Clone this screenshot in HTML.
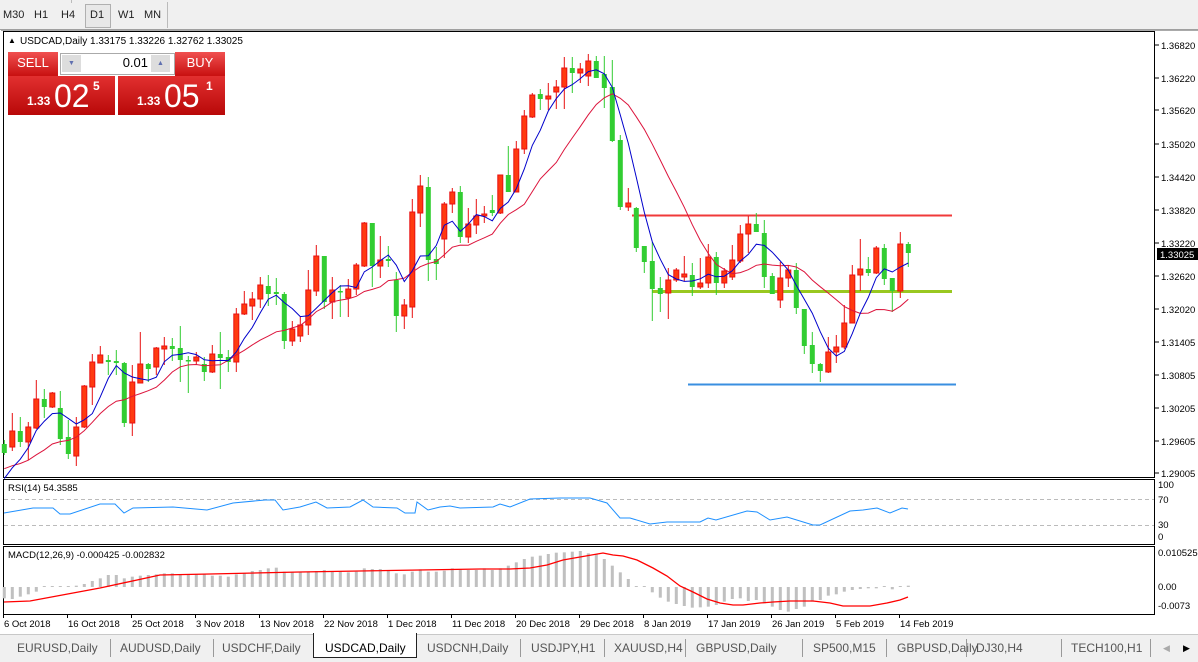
<!DOCTYPE html>
<html><head><meta charset="utf-8">
<style>
html,body{margin:0;padding:0;width:1198px;height:661px;overflow:hidden;background:#fff;font-family:"Liberation Sans",sans-serif;}
#tb{position:absolute;left:0;top:0;width:1198px;height:29px;background:#f0f0f0;border-bottom:1px solid #a0a0a0;}
.tf{position:absolute;top:9px;font-size:11px;color:#222;}
#d1{position:absolute;left:85px;top:4px;width:24px;height:22px;border:1px solid #b0b0b0;background:#e8e8e8;}
#tabs{position:absolute;left:0;top:634px;width:1198px;height:27px;background:#f0f0f0;border-top:1px solid #c8c8c8;}
.tab{position:absolute;top:6px;font-size:12px;color:#555;}
.sep{position:absolute;top:4px;width:1px;height:18px;background:#999;}
#act{position:absolute;left:313px;top:-2px;width:102px;height:24px;background:#fff;border:1px solid #222;border-top:none;}
.btn{position:absolute;background:linear-gradient(#f05050,#c81010);color:#fff;font-size:13px;text-align:center;}
</style></head><body>
<div id="tb">
<span class="tf" style="left:3px">M30</span><span class="tf" style="left:34px">H1</span><span class="tf" style="left:61px">H4</span>
<div id="d1"></div><span class="tf" style="left:90px">D1</span><span class="tf" style="left:118px">W1</span><span class="tf" style="left:144px">MN</span>
<div style="position:absolute;left:167px;top:2px;width:1px;height:26px;background:#bbb"></div>
<div style="position:absolute;left:71px;top:0;width:1px;height:3px;background:#bbb"></div>
</div>
<svg id="s" width="1198" height="661" style="position:absolute;left:0;top:0" xmlns="http://www.w3.org/2000/svg"></svg>
<div class="btn" style="left:8px;top:52px;width:50px;height:24px;line-height:22px;">SELL</div>
<div class="btn" style="left:175px;top:52px;width:50px;height:24px;line-height:22px;">BUY</div>
<div style="position:absolute;left:60px;top:53px;width:113px;height:20px;background:#fff;border:1px solid #aaa;"></div>
<div style="position:absolute;left:62px;top:55px;width:19px;height:17px;background:#ddd;color:#6070b0;font-size:7px;text-align:center;line-height:17px">▼</div>
<div style="position:absolute;left:151px;top:55px;width:19px;height:17px;background:#ddd;color:#6070b0;font-size:7px;text-align:center;line-height:17px">▲</div>
<div style="position:absolute;left:100px;top:55px;width:48px;text-align:right;font-size:13px;color:#000;">0.01</div>
<div class="btn" style="left:8px;top:76px;width:107px;height:39px;background:linear-gradient(#e23030,#b80808)"><span style="position:absolute;left:19px;top:18px;font-size:12px;font-weight:bold">1.33</span><span style="position:absolute;left:46px;top:2px;font-size:32px">02</span><span style="position:absolute;left:85px;top:3px;font-size:12px;font-weight:bold">5</span></div>
<div class="btn" style="left:118px;top:76px;width:107px;height:39px;background:linear-gradient(#e23030,#b80808)"><span style="position:absolute;left:19px;top:18px;font-size:12px;font-weight:bold">1.33</span><span style="position:absolute;left:46px;top:2px;font-size:32px">05</span><span style="position:absolute;left:88px;top:3px;font-size:12px;font-weight:bold">1</span></div>
<div id="tabs">
<div id="act"></div>
<span class="tab" style="left:17px">EURUSD,Daily</span><div class="sep" style="left:110px"></div>
<span class="tab" style="left:120px">AUDUSD,Daily</span><div class="sep" style="left:213px"></div>
<span class="tab" style="left:222px">USDCHF,Daily</span>
<span class="tab" style="left:325px;color:#000">USDCAD,Daily</span>
<span class="tab" style="left:427px">USDCNH,Daily</span><div class="sep" style="left:520px"></div>
<span class="tab" style="left:531px">USDJPY,H1</span><div class="sep" style="left:604px"></div>
<span class="tab" style="left:614px">XAUUSD,H4</span><div class="sep" style="left:685px"></div>
<span class="tab" style="left:696px">GBPUSD,Daily</span><div class="sep" style="left:802px"></div>
<span class="tab" style="left:813px">SP500,M15</span><div class="sep" style="left:886px"></div>
<span class="tab" style="left:897px">GBPUSD,Daily</span><div class="sep" style="left:966px"></div>
<span class="tab" style="left:976px">DJ30,H4</span><div class="sep" style="left:1061px"></div>
<span class="tab" style="left:1071px">TECH100,H1</span><div class="sep" style="left:1150px"></div>
<span class="tab" style="left:1163px;font-size:9px;top:8px;color:#aaa">◀</span><span class="tab" style="left:1183px;font-size:9px;top:8px;color:#000">▶</span>
</div>
<script>
var C=[
['g',444,453,440,455],['r',431,447,413,451],['g',431,442,417,447],['r',427,442,422,460],['r',399,428,380,429],
['g',399,407,389,418],['r',393,407,392,408],['g',408,439,391,445],['g',437,454,420,459],['r',427,456,417,466],
['r',386,427,385,428],['r',362,387,354,405],['r',355,363,346,363],['g',360,362,355,375],['g',361,363,350,375],
['g',363,423,362,427],['r',382,423,365,436],['r',364,383,332,383],['g',364,369,363,382],['r',348,367,347,375],
['r',346,349,337,365],['g',346,349,338,361],['g',348,360,326,382],['g',360,361,356,393],['r',357,361,352,365],
['g',364,372,357,381],['r',354,372,345,373],['g',354,358,332,389],['g',357,362,350,372],['r',314,362,308,372],
['r',304,314,291,315],['r',299,306,292,320],['r',285,299,277,308],['g',286,294,275,306],['g',292,294,278,305],
['g',294,341,292,349],['r',329,341,321,346],['r',325,336,317,342],['r',290,325,270,335],['r',256,291,245,296],
['g',256,302,256,309],['r',290,302,277,319],['g',291,292,285,317],['r',289,298,279,317],['r',265,289,263,295],
['r',223,266,222,267],['g',223,266,223,287],['r',260,266,236,278],['g',259,261,246,267],['g',280,316,272,332],
['r',305,316,299,329],['r',212,307,199,318],['r',186,213,175,227],['g',187,260,177,281],['g',259,264,247,280],
['r',204,239,202,258],['r',192,204,188,213],['g',192,237,186,243],['r',224,237,208,243],['r',216,225,199,234],
['r',214,216,206,223],['g',210,213,195,216],['r',175,213,175,214],['g',175,192,146,192],['r',149,192,141,192],
['r',116,149,110,154],['r',95,117,93,118],['g',94,99,89,110],['r',96,99,83,110],['r',87,92,80,109],
['r',68,87,57,109],['g',68,73,57,93],['r',69,73,63,83],['r',61,76,54,86],['g',61,78,56,78],
['g',74,88,56,108],['g',87,141,60,142],['g',140,207,135,210],['r',203,207,188,211],['g',208,248,207,252],
['g',246,262,246,273],['g',261,289,242,321],['g',288,294,277,312],['r',280,293,268,319],['r',270,280,268,282],
['r',274,277,256,281],['g',275,287,263,296],['r',283,287,258,289],['r',257,283,244,288],['g',257,283,252,295],
['r',271,283,268,288],['r',260,277,245,280],['r',234,261,225,263],['r',224,234,216,253],['g',224,232,213,232],
['g',233,277,220,288],['g',276,294,273,294],['r',278,300,262,308],['r',270,278,265,287],['g',270,308,263,314],
['g',309,346,309,354],['g',345,364,332,373],['g',364,371,363,382],['r',352,372,337,373],['r',347,352,335,363],
['r',323,347,305,349],['r',275,323,265,323],['r',269,275,239,291],['g',269,273,257,276],['r',248,273,246,274],
['g',248,279,244,285],['g',278,291,278,312],['r',244,291,232,298],['g',244,253,242,267]];
var X=k=>4.3+8*k, s='';
function L(x1,y1,x2,y2,c,w,d){return '<line x1="'+x1+'" y1="'+y1+'" x2="'+x2+'" y2="'+y2+'" stroke="'+c+'" stroke-width="'+(w||1)+'"'+(d?' stroke-dasharray="'+d+'"':'')+'/>';}
function T(x,y,t,sz,a,c){return '<text x="'+x+'" y="'+y+'" font-size="'+(sz||10)+'" font-family="Liberation Sans,sans-serif"'+(a?' text-anchor="'+a+'"':'')+' fill="'+(c||'#000')+'">'+t+'</text>';}
s+='<rect x="3.5" y="31.5" width="1151" height="446" fill="none" stroke="#000"/>';
s+='<rect x="3.5" y="479.5" width="1151" height="65" fill="none" stroke="#000"/>';
s+='<rect x="3.5" y="546.5" width="1151" height="68" fill="none" stroke="#000"/>';
s+=L(1,30.5,1198,30.5,'#aaa');
s+='<text x="8" y="43" font-size="8">▲</text>'+T(20,44,'USDCAD,Daily  1.33175 1.33226 1.32762 1.33025',10);
var P=[['1.36820',45],['1.36220',78],['1.35620',110],['1.35020',144],['1.34420',177],['1.33820',210],['1.33220',243],['1.32620',276],['1.32020',309],['1.31405',342],['1.30805',375],['1.30205',408],['1.29605',441],['1.29005',473]];
P.forEach(p=>{s+=L(1155,p[1],1159,p[1],'#000')+T(1161,p[1]+4,p[0],9.5);});
s+='<rect x="1157" y="248" width="41" height="12" fill="#000"/>'+T(1160,258,'1.33025',9.5,null,'#fff');
s+=L(632,215.5,952,215.5,'#f03a3a',2)+L(652,291.5,952,291.5,'#99c820',3)+L(688,384.5,956,384.5,'#3a8fe0',2);
var cl=C.map(c=>c[0]=='r'?c[1]:c[2]);
function ma(n,pre){var out=[];for(var i=0;i<cl.length;i++){var t=0;for(var j=i-n+1;j<=i;j++)t+=j<0?pre:cl[j];out.push(t/n);}return out;}
var b=ma(5,485),r=ma(13,470);
function pl(a,c){return '<polyline fill="none" stroke="'+c+'" stroke-width="1" points="'+a.map((v,i)=>X(i)+','+v.toFixed(1)).join(' ')+'"/>';}
C.forEach((c,k)=>{var x=X(k),col=c[0]=='r'?'#e81010':'#30cc30',f=c[0]=='r'?'#ff3a10':'#32cd32';
s+=L(x,c[3],x,c[4],col);var h=Math.max(c[2]-c[1],1.5);s+='<rect x="'+(x-2.5)+'" y="'+c[1]+'" width="5" height="'+h+'" fill="'+f+'" stroke="'+col+'" stroke-width="'+(c[0]=='r'?1:0)+'"/>';});
s+=pl(r,'#dc143c')+pl(b,'#0000cc');
s+=T(8,491,'RSI(14) 54.3585',9.5);
s+=L(4,499.5,1154,499.5,'#bbb',1,'4,3')+L(4,525.5,1154,525.5,'#bbb',1,'4,3');
[['100',488],['70',503],['30',528],['0',540]].forEach(p=>{s+=T(1158,p[1],p[0],9.5);});
var R=[[4,513],[33,508],[53,508],[60,514],[70,514],[100,504],[115,504],[124,513],[133,508],[173,507],[207,510],[233,503],[265,500],[275,500],[283,510],[300,507],[316,502],[327,508],[350,507],[363,500],[373,507],[397,508],[405,513],[415,513],[417,502],[428,510],[440,507],[450,506],[460,508],[493,507],[500,504],[510,507],[530,499],[560,498],[590,498],[607,503],[620,518],[630,518],[650,524],[667,522],[700,522],[708,518],[716,520],[747,511],[757,512],[770,520],[787,517],[813,525],[820,525],[850,511],[863,510],[877,508],[890,513],[902,508],[908,509]];
s+='<polyline fill="none" stroke="#1e90ff" stroke-width="1" points="'+R.map(p=>p.join(',')).join(' ')+'"/>';
s+=T(8,558,'MACD(12,26,9) -0.000425 -0.002832',9.5);
[['0.010525',556],['0.00',590],['-0.0073',609]].forEach(p=>{s+=T(1158,p[1],p[0],9.5);});
var H=[370,372,365,358,350,338,334,336,334,332,327,318,310,300,300,310,305,302,300,298,295,295,297,298,298,298,302,302,305,298,295,288,285,280,278,290,292,290,290,288,285,288,288,292,290,280,282,282,285,295,298,290,283,290,290,287,280,283,285,285,
280,285,280,272,262,252,245,242,237,233,232,230,228,235,237,252,272,292,312,333,333,352,368,380,387,393,398,397,395,390,380,372,370,378,375,385,395,405,410,402,395,380,375,362,358,350,345,342,340,340,338,343,337,332];
H.forEach((v,k)=>{if(k>113)return;var y=475+v/3,z=587;var y1=Math.min(y,z),hh=Math.abs(y-z);if(hh<1){s+='<rect x="'+(X(k)-1.5)+'" y="586" width="3" height="1" fill="#c0c0c0"/>';return;}s+='<rect x="'+(X(k)-1.5)+'" y="'+y1+'" width="3" height="'+hh+'" fill="#c0c0c0"/>';});
var S=[[4,602],[30,601],[100,588],[160,575],[210,574],[300,572],[480,569],[510,569],[530,568],[547,565],[563,560],[580,557],[603,553],[613,555],[623,556],[637,560],[653,568],[667,576],[680,586],[693,592],[707,599],[720,603],[733,605],[743,605],[760,603],[773,602],[790,601],[813,601],[830,603],[843,606],[870,606],[887,603],[900,600],[908,597]];
s+='<polyline fill="none" stroke="#ff0000" stroke-width="1.3" points="'+S.map(p=>p.join(',')).join(' ')+'"/>';
var D=['6 Oct 2018','16 Oct 2018','25 Oct 2018','3 Nov 2018','13 Nov 2018','22 Nov 2018','1 Dec 2018','11 Dec 2018','20 Dec 2018','29 Dec 2018','8 Jan 2019','17 Jan 2019','26 Jan 2019','5 Feb 2019','14 Feb 2019'];
D.forEach((d,i)=>{var x=3+64*i;s+=L(x+0.5,614,x+0.5,618,'#000')+T(x+1,627,d,9.5);});
document.getElementById('s').innerHTML=s;
</script>
</body></html>
